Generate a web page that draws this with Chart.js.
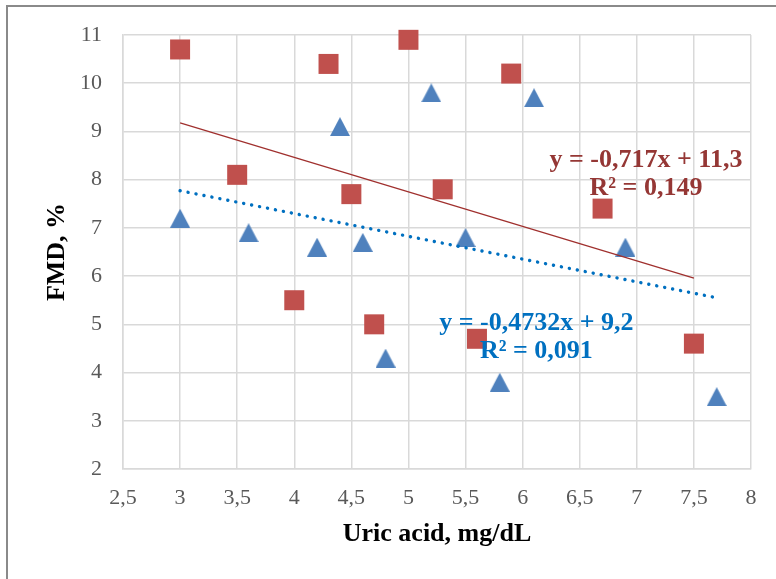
<!DOCTYPE html>
<html>
<head>
<meta charset="utf-8">
<script src="https://cdn.jsdelivr.net/npm/chart.js@4/dist/chart.umd.min.js"></script>
<style>
html, body { margin: 0; padding: 0; background: #fff; overflow: hidden; }
#contenedor { position: relative; width: 776px; height: 579px; }
#grafico { position: absolute; left: 0; top: 0; }
#marco { position: absolute; left: 6px; top: 5px; width: 800px; height: 600px; border: 2px solid #8a8a8a; pointer-events: none; }
</style>
</head>
<body>
<div id="contenedor">
    <canvas id="grafico" width="776" height="579"></canvas>
    <div id="marco"></div>
</div>
<script>
// datos
var acidoRojo = [3, 3.5, 4, 4.3, 4.5, 4.7, 5, 5.3, 5.6, 5.9, 6.7, 7.5];
var fmdRojo   = [10.7, 8.1, 5.5, 10.4, 7.7, 5.0, 10.9, 7.8, 4.7, 10.2, 7.4, 4.6];
var acidoAzul = [3, 3.6, 4.2, 4.4, 4.6, 4.8, 5.2, 5.5, 5.8, 6.1, 6.9, 7.7];
var fmdAzul   = [7.2, 6.9, 6.6, 9.1, 6.7, 4.3, 9.8, 6.8, 3.8, 9.7, 6.6, 3.5];
// lineas de tendencia (extremos)
var tendenciaRojoX = [3, 7.5];
var tendenciaRojoY = [9.18, 5.96];
var tendenciaAzulX = [3, 7.7];
var tendenciaAzulY = [7.77, 5.55];
var ticksX = ['2,5', '3', '3,5', '4', '4,5', '5', '5,5', '6', '6,5', '7', '7,5', '8'];
var ticksY = ['2', '3', '4', '5', '6', '7', '8', '9', '10', '11'];
var ecuacionRojo = ['y = -0,717x + 11,3', 'R² = 0,149'];
var ecuacionAzul = ['y = -0,4732x + 9,2', 'R² = 0,091'];

var fuente = "'Liberation Serif', 'Times New Roman', serif";

function puntos(xs, ys) {
    var r = [];
    for (var i = 0; i < xs.length; i++) r.push({x: xs[i], y: ys[i]});
    return r;
}

function triangulo(color) {
    var c = document.createElement('canvas');
    c.width = 20; c.height = 19;
    var g = c.getContext('2d');
    g.fillStyle = color;
    g.beginPath();
    g.moveTo(10, 0); g.lineTo(20, 19); g.lineTo(0, 19);
    g.closePath();
    g.fill();
    return c;
}

var ecuaciones = {
    id: 'ecuaciones',
    afterDatasetsDraw: function (chart) {
        var ctx = chart.ctx, sx = chart.scales.x, sy = chart.scales.y;
        function escribir(lineas, vx, vy, color) {
            var px = sx.getPixelForValue(vx), py = sy.getPixelForValue(vy);
            ctx.save();
            ctx.font = 'bold 26px ' + fuente;
            ctx.fillStyle = color;
            ctx.textAlign = 'center';
            ctx.textBaseline = 'middle';
            for (var i = 0; i < lineas.length; i++) ctx.fillText(lineas[i], px, py + i * 28);
            ctx.restore();
        }
        escribir(ecuacionRojo, 7.08, 8.40, '#953735');
        escribir(ecuacionAzul, 6.12, 5.03, '#0070C0');
    }
};

var contexto = document.getElementById('grafico').getContext('2d');
var myChart = new Chart(contexto, {
    type: 'scatter',
    data: {
        datasets: [
            {
                label: 'tendencia rojo', type: 'line', order: 0,
                data: puntos(tendenciaRojoX, tendenciaRojoY),
                borderColor: '#A0302E', borderWidth: 1.3, pointRadius: 0, fill: false
            }, {
                label: 'tendencia azul', type: 'line', order: 0,
                data: puntos(tendenciaAzulX, tendenciaAzulY),
                borderColor: '#0070C0', borderWidth: 3.4, borderDash: [0.1, 8], borderCapStyle: 'round',
                pointRadius: 0, fill: false
            }, {
                label: 'rojo', order: 1, clip: false,
                data: puntos(acidoRojo, fmdRojo),
                pointStyle: 'rect', pointRadius: 14.14, pointBorderWidth: 0,
                backgroundColor: '#C0504D', borderColor: '#C0504D'
            }, {
                label: 'azul', order: 1, clip: false,
                data: puntos(acidoAzul, fmdAzul),
                pointStyle: triangulo('#4F81BD'), pointRadius: 10, pointBorderWidth: 0,
                backgroundColor: '#4F81BD', borderColor: '#4F81BD'
            }
        ]
    },
    options: {
        responsive: false,
        animation: false,
        devicePixelRatio: 1,
        events: [],
        layout: { padding: { top: 35, right: 25, left: 0, bottom: 0 } },
        plugins: { legend: { display: false }, tooltip: { enabled: false } },
        scales: {
            x: {
                type: 'linear', min: 2.5, max: 8,
                afterFit: function (s) { s.height = 110; },
                ticks: {
                    stepSize: 0.5, color: '#595959', padding: 16,
                    font: { family: fuente, size: 22 },
                    callback: function (v) { return ticksX[Math.round((v - 2.5) / 0.5)]; }
                },
                grid: { color: '#D9D9D9', lineWidth: 1.5, drawTicks: false },
                border: { color: '#D9D9D9', width: 1.5 },
                title: {
                    display: true, text: 'Uric acid, mg/dL', color: '#000',
                    font: { family: fuente, size: 26, weight: 'bold' },
                    padding: { top: 0, bottom: 29 }
                }
            },
            y: {
                type: 'linear', min: 2, max: 11,
                afterFit: function (s) { s.width = 123; },
                ticks: {
                    stepSize: 1, color: '#595959', padding: 21,
                    font: { family: fuente, size: 22 },
                    callback: function (v) { return ticksY[Math.round(v - 2)]; }
                },
                grid: { color: '#D9D9D9', lineWidth: 1.5, drawTicks: false },
                border: { color: '#D9D9D9', width: 1.5 },
                title: {
                    display: true, text: 'FMD, %', color: '#000',
                    font: { family: fuente, size: 26, weight: 'bold' },
                    padding: { top: 42, bottom: 0 }
                }
            }
        }
    },
    plugins: [ecuaciones]
});
</script>
</body>
</html>
